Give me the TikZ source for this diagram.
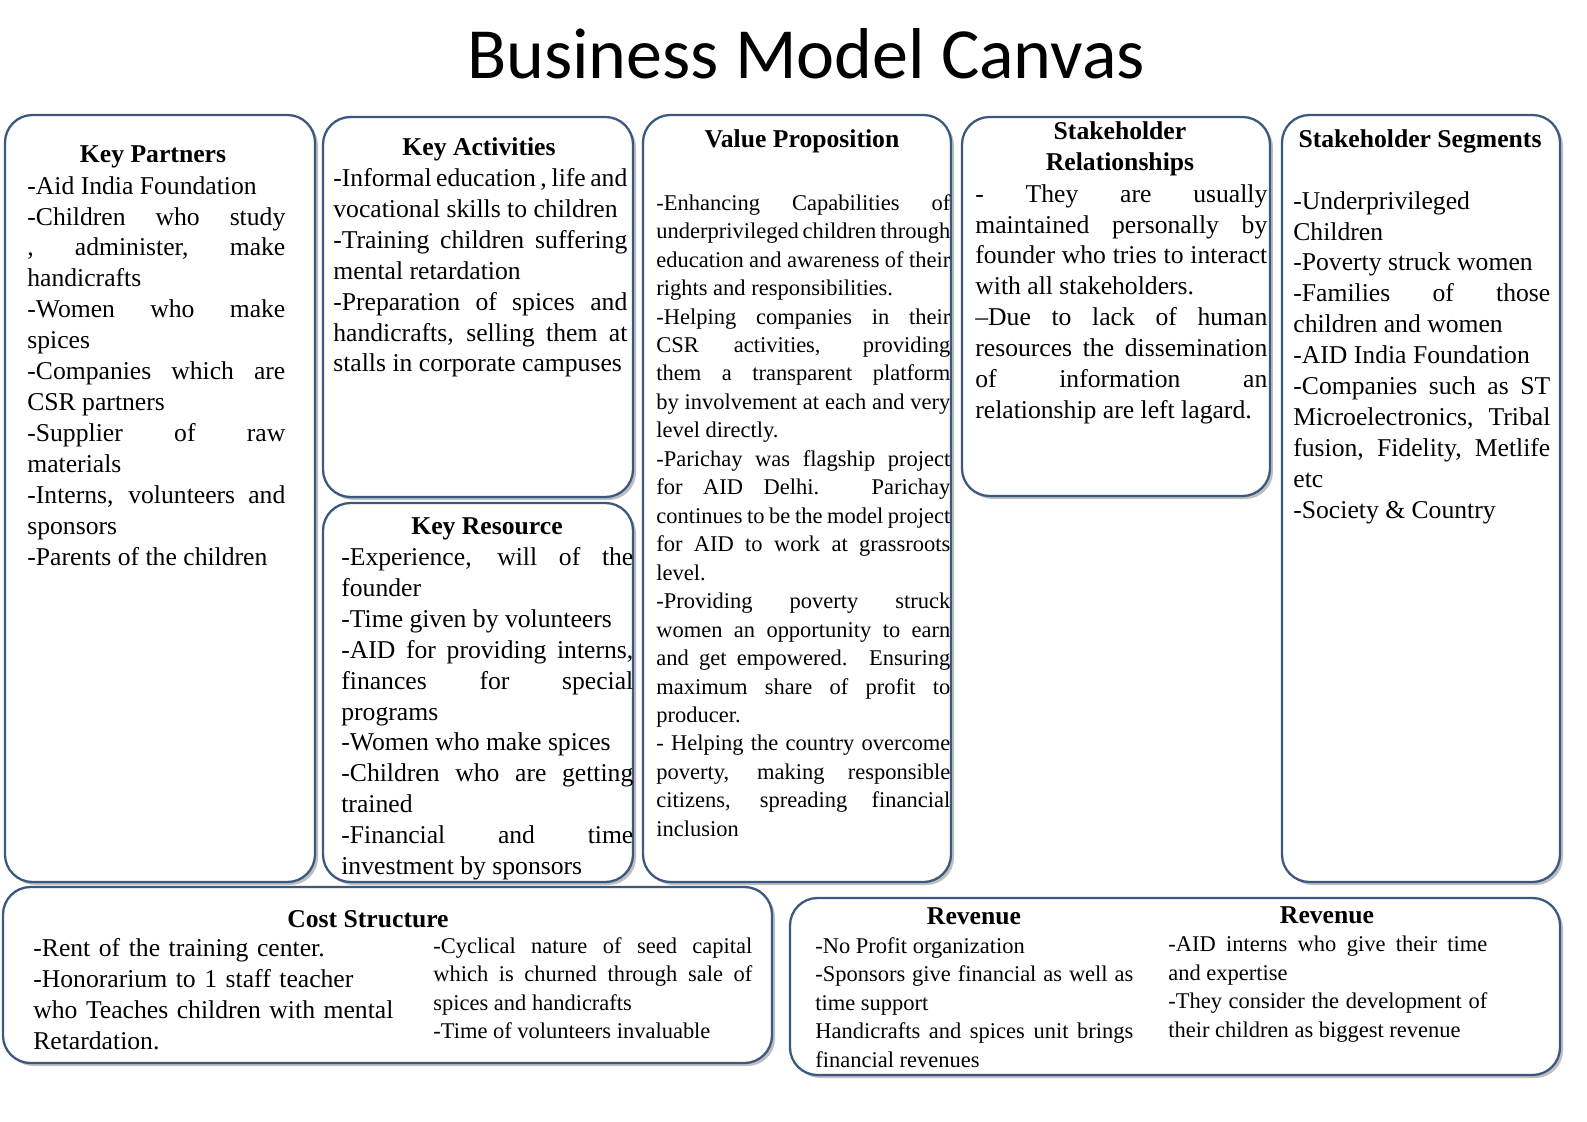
\documentclass[tikz,border=0pt]{standalone}
\usepackage{fontspec}
\setmainfont{Liberation Serif}
\newfontfamily\titlefont{Carlito}
\usetikzlibrary{positioning}
\definecolor{canvasblue}{RGB}{60,88,128}
\definecolor{canvasshadow}{RGB}{190,190,190}
\hyphenpenalty=10000
\exhyphenpenalty=10000
\tolerance=9999
\newcommand{\bigcell}{\fontsize{14.6}{17.6}\selectfont}
\newcommand{\smallcell}{\fontsize{12.8}{16.2}\selectfont}
\tikzset{
    canvas box/.style={draw=canvasblue, line width=1.3pt, rounded corners=0.55cm, fill=white},
    canvas shadow/.style={fill=canvasshadow, rounded corners=0.55cm},
    cell head/.style={font=\bigcell\bfseries, align=center, inner sep=0pt},
    cell text/.style={anchor=north west, align=justify, inner sep=0pt, font=\bigcell},
    small text/.style={cell text, font=\smallcell}
}
\begin{document}
\begin{tikzpicture}[x=0.02cm,y=-0.02cm]
    \useasboundingbox (0,0) rectangle (1587,1122);
    % boxes with a soft shadow
    \foreach \xa/\ya/\xb/\yb in {5/115/315/882, 323/117/633/497, 323/503/633/882,
        643/115/951/882, 962/117/1270/496, 1282/115/1560/882,
        3/887/772/1063, 790/898/1560/1075}{
        \fill[canvas shadow] (\xa+3,\ya+3) rectangle (\xb+3,\yb+3);
        \draw[canvas box] (\xa,\ya) rectangle (\xb,\yb);
    }
    \node[font=\titlefont\fontsize{41}{44}\selectfont] (title) at (806,54) {Business Model Canvas};

    % key partners
    \node[cell head] (kp-head) at (153,157) {Key Partners};
    \node[cell text, text width=258*0.02cm] (kp-text) at (27,176) {
        -Aid India Foundation\par
        -Children who study , administer, make handicrafts\par
        -Women who make spices\par
        -Companies which are CSR partners\par
        -Supplier of raw materials\par
        -Interns, volunteers and sponsors\par
        -Parents of the children};

    % key activities
    \node[cell head] (ka-head) at (479,149) {Key Activities};
    \node[cell text, text width=294*0.02cm] (ka-text) at (333,168) {
        -Informal education , life and vocational skills to children\par
        -Training children suffering mental retardation\par
        -Preparation of spices and handicrafts, selling them at stalls in corporate campuses};

    % key resource
    \node[cell head] (kr-head) at (487,529) {Key Resource};
    \node[cell text, text width=292*0.02cm] (kr-text) at (341,547) {
        -Experience, will of the founder\par
        -Time given by volunteers\par
        -AID for providing interns, finances for special programs\par
        -Women who make spices\par
        -Children who are getting trained\par
        -Financial and time investment by sponsors};

    % value proposition
    \node[cell head] (vp-head) at (802,141) {Value Proposition};
    \node[small text, text width=294*0.02cm] (vp-text) at (656,194) {
        -Enhancing Capabilities of underprivileged children through education and awareness of their rights and responsibilities.\par
        -Helping companies in their CSR activities, providing them a transparent platform by involvement at each and very level directly.\par
        -Parichay was flagship project for AID Delhi. Parichay continues to be the model project for AID to work at grassroots level.\par
        -Providing poverty struck women an opportunity to earn and get empowered. Ensuring maximum share of profit to producer.\par
        - Helping the country overcome poverty, making responsible citizens, spreading financial inclusion};

    % stakeholder relationships
    \node[cell head] (sr-head) at (1120,149) {Stakeholder\\Relationships};
    \node[cell text, text width=292*0.02cm] (sr-text) at (975,184) {
        - They are usually maintained personally by founder who tries to interact with all stakeholders.\par
        --Due to lack of human resources the dissemination of information an relationship are left lagard.};

    % stakeholder segments
    \node[cell head] (ss-head) at (1420,141) {Stakeholder Segments};
    \node[cell text, text width=257*0.02cm] (ss-text) at (1293,191) {
        -Underprivileged Children\par
        -Poverty struck women\par
        -Families of those children and women\par
        -AID India Foundation\par
        -Companies such as ST Microelectronics, Tribal fusion, Fidelity, Metlife etc\par
        -Society \& Country};

    % cost structure
    \node[cell head] (cs-head) at (368,919) {Cost Structure};
    \node[cell text, text width=377*0.02cm, align=left] (cs-text) at (33,938) {
        -Rent of the training center.\par
        -Honorarium to 1 staff teacher who Teaches children with mental Retardation.};
    \node[small text, text width=319*0.02cm] (cs-more) at (433,937) {
        -Cyclical nature of seed capital which is churned through sale of spices and handicrafts\par
        -Time of volunteers invaluable};

    % revenue
    \node[cell head] (rv-head) at (974,916) {Revenue};
    \node[small text, text width=318*0.02cm] (rv-text) at (815,937) {
        -No Profit organization\par
        -Sponsors give financial as well as time support\par
        Handicrafts and spices unit brings financial revenues};
    \node[cell head] (rv-head2) at (1327,915) {Revenue};
    \node[small text, text width=319*0.02cm] (rv-more) at (1168,936) {
        -AID interns who give their time and expertise\par
        -They consider the development of their children as biggest revenue};
\end{tikzpicture}
\end{document}
